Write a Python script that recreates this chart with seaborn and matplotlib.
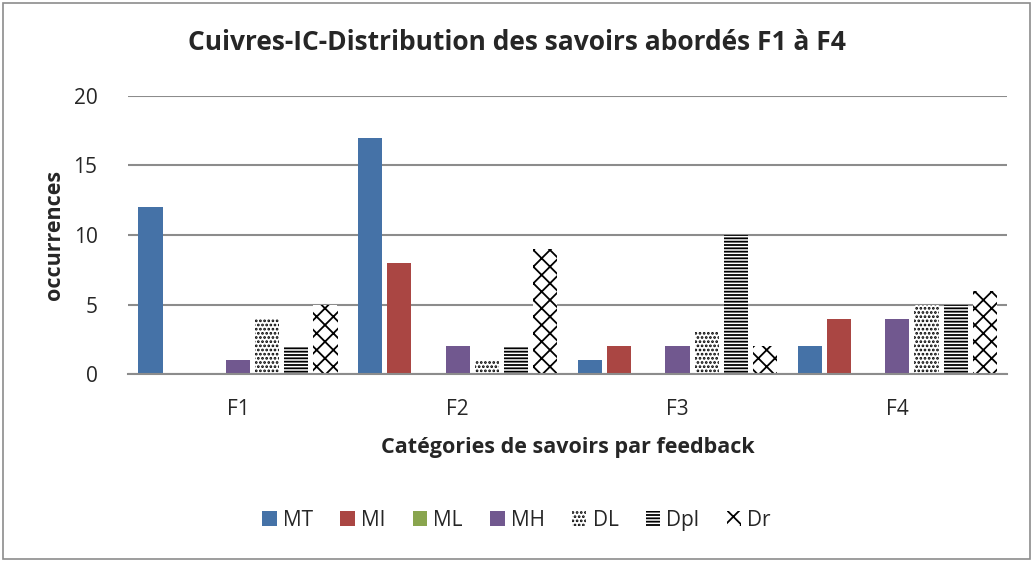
import pandas as pd
import seaborn as sns
import matplotlib.pyplot as plt
from matplotlib.patches import Rectangle

# data
feedbacks = ['F1', 'F2', 'F3', 'F4']
series = ['MT', 'MI', 'ML', 'MH', 'DL', 'Dpl', 'Dr']
values = {
    'MT': [12, 17, 1, 2],
    'MI': [0, 8, 2, 4],
    'ML': [0, 0, 0, 0],
    'MH': [1, 2, 2, 4],
    'DL': [4, 1, 3, 5],
    'Dpl': [2, 2, 10, 5],
    'Dr': [5, 9, 2, 6],
}

colors = {'MT': '#4572A7', 'MI': '#AA4643', 'ML': '#89A54E', 'MH': '#71588F',
          'DL': 'white', 'Dpl': 'white', 'Dr': 'white'}
hatches = {'DL': '....', 'Dpl': '-----', 'Dr': 'xx'}

rows = []
for s in series:
    for f, v in zip(feedbacks, values[s]):
        rows.append({'feedback': f, 'serie': s, 'occ': v})
df = pd.DataFrame(rows)

sns.set_theme(style='white')
plt.rcParams['font.family'] = ['Open Sans', 'DejaVu Sans']
plt.rcParams['hatch.linewidth'] = 1.3

fig = plt.figure(figsize=(10.33, 5.61), dpi=100)
ax = fig.add_axes([0.124, 0.333, 0.851, 0.496])

sns.barplot(data=df, x='feedback', y='occ', hue='serie', hue_order=series,
            palette=colors, width=0.93, gap=0.17, ax=ax, legend=False,
            linewidth=0, saturation=1)

for cont, s in zip(ax.containers, series):
    for bar in cont:
        if s in hatches:
            bar.set_hatch(hatches[s])
            bar.set_edgecolor('black')
            bar.set_linewidth(0)

ax.set_ylim(0, 20)
ax.set_yticks([0, 5, 10, 15, 20])
ax.set_xlim(-0.5, 3.5)
ax.yaxis.grid(True, color='#8c8c8c', linewidth=1.5)
ax.set_axisbelow(True)
for sp in ['top', 'right', 'left']:
    ax.spines[sp].set_visible(False)
ax.spines['bottom'].set_color('#8c8c8c')
ax.spines['bottom'].set_linewidth(1.5)
ax.tick_params(axis='both', length=0, labelsize=15, pad=22)
ax.tick_params(axis='x', pad=18)

ax.set_xlabel('Catégories de savoirs par feedback', fontsize=15.5, fontweight='bold', labelpad=12)
ax.set_ylabel('occurrences', fontsize=15.5, fontweight='bold', labelpad=6)
fig.suptitle('Cuivres-IC-Distribution des savoirs abordés F1 à F4', fontsize=19,
             fontweight='bold', x=0.5, y=0.948)

handles = []
for s in series:
    h = Rectangle((0, 0), 1, 1, facecolor=colors[s], edgecolor='black' if s in hatches else colors[s],
                  linewidth=0, hatch=hatches.get(s))
    handles.append(h)
fig.legend(handles, series, loc='center', bbox_to_anchor=(0.5, 0.073), ncol=7,
           frameon=False, fontsize=15, handlelength=0.7, handleheight=0.7,
           handletextpad=0.3, columnspacing=1.3)

# outer chart border
fig.patches.append(Rectangle((0.003, 0.004), 0.994, 0.99, transform=fig.transFigure,
                             fill=False, edgecolor='#8c8c8c', linewidth=1.2))

fig.savefig('out.png', dpi=100)
